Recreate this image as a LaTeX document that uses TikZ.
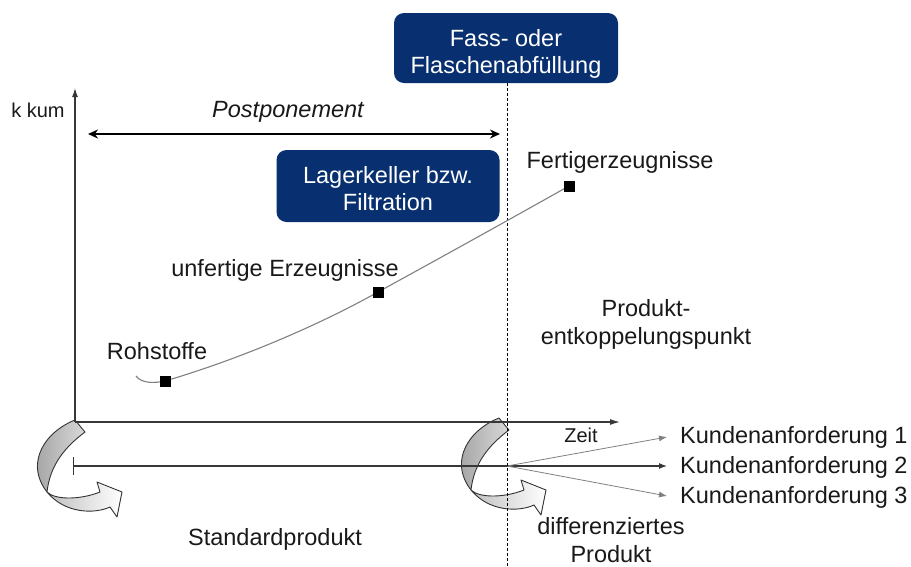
\documentclass[tikz,border=0pt]{standalone}
\usepackage{fontspec}
\setmainfont{Liberation Sans}
\usetikzlibrary{arrows.meta}
\definecolor{navy}{RGB}{8,48,112}
\definecolor{axisgray}{RGB}{55,55,55}
\definecolor{txtcol}{RGB}{25,25,25}
\begin{document}
\begin{tikzpicture}[x=1pt,y=-1pt,
  txt/.style={inner sep=0pt, font=\fontsize{23.5}{28}\selectfont, text=txtcol},
  smalltxt/.style={inner sep=0pt, font=\fontsize{20}{24}\selectfont, text=txtcol},
  bluebox/.style={fill=navy, rounded corners=10pt, inner sep=0pt},
  boxtxt/.style={inner sep=0pt, text=white, align=center, font=\fontsize{23.5}{27}\selectfont},
  marker/.style={fill=black, minimum size=11pt, inner sep=0pt},
  axisline/.style={draw=axisgray, line width=1.3pt},
  fanline/.style={draw=gray, line width=0.8pt, -{Latex[length=8pt,width=6pt]}},
  twistedge/.style={draw=black!80, line width=0.9pt, line join=round}
]
\useasboundingbox (0,0) rectangle (911,566);

% coordinates
\coordinate (O) at (75,422);
\coordinate (ytop) at (75,88);
\coordinate (xend) at (620,422);
\coordinate (pstart) at (88,134);
\coordinate (pend) at (500,134);
\coordinate (lstart) at (73,466);
\coordinate (split) at (507,466);
\coordinate (dtop) at (507,83);
\coordinate (dbot) at (507,566);
\coordinate (k1end) at (667,437);
\coordinate (k2end) at (667,466);
\coordinate (k3end) at (667,496);
\coordinate (cstart) at (136,376);
\coordinate (rohc) at (165,381);
\coordinate (unfc) at (378,292);
\coordinate (fertc) at (569,186);

% curved twisted arrows
\foreach \dx/\dy in {0/0, 424/-2} {
  \begin{scope}[shift={(\dx,\dy)}]
    \shade[twistedge, left color=gray!50, right color=white]
      (47,492) .. controls (55,500) and (80,500) .. (100,492) -- (97,482) -- (122,492)
      -- (117,517) -- (110,507) .. controls (95,514) and (65,514) .. (47,492) -- cycle;
    \shade[twistedge, left color=gray!70, right color=gray!30]
      (75,420) -- (85,432) .. controls (65,447) and (50,465) .. (47,492)
      .. controls (39,482) and (36,470) .. (38,460)
      .. controls (41,443) and (55,428) .. (75,420) -- cycle;
  \end{scope}
}

% axes
\draw[axisline, -{Latex[length=9pt,width=6pt]}] (O) -- (ytop);
\draw[axisline, -{Latex[length=10pt,width=6pt]}] (O) -- (xend);

% standard product line with bar
\draw[line width=1.1pt, draw=axisgray, {Bar[width=18pt]}-] (lstart) -- (split);
\draw[line width=1.1pt, draw=axisgray, -{Latex[length=8pt,width=6pt]}] (split) -- (k2end);
\draw[fanline] (split) -- (k1end);
\draw[fanline] (split) -- (k3end);

% postponement arrow
\draw[line width=2.4pt, {Stealth[length=10pt,width=9pt]}-{Stealth[length=10pt,width=9pt]}] (pstart) -- (pend);

% dashed decoupling line
\draw[line width=0.9pt, dash pattern=on 3pt off 2pt] (dtop) -- (dbot);

% boxes
\node[bluebox, minimum width=224pt, minimum height=70pt] (fassbox) at (506,48) {};
\node[boxtxt] (fass) at (506,54) {Fass- oder\\Flaschenabfüllung};
\node[bluebox, minimum width=223pt, minimum height=72pt] (lagerbox) at (388,186) {};
\node[boxtxt] (lager) at (388,189) {Lagerkeller bzw.\\Filtration};

% cost curve and markers
\draw[gray, line width=1.1pt] (cstart) .. controls (142,384) and (155,383) .. (rohc)
  .. controls (230,362) and (310,330) .. (unfc)
  .. controls (440,258) and (505,222) .. (fertc);
\node[marker] (roh) at (rohc) {};
\node[marker] (unf) at (unfc) {};
\node[marker] (fert) at (fertc) {};

% labels
\node[smalltxt, anchor=base] (kkum) at (38,117) {k kum};
\node[txt, anchor=base, font=\fontsize{23.5}{28}\selectfont\itshape] (post) at (288,117) {Postponement};
\node[txt, anchor=base] (lfert) at (620,168) {Fertigerzeugnisse};
\node[txt, anchor=base] (lunf) at (285,276) {unfertige Erzeugnisse};
\node[txt, anchor=base] (lroh) at (157,359) {Rohstoffe};
\node[txt, align=center] (entk) at (646,324) {Produkt-\\entkoppelungspunkt};
\node[smalltxt, anchor=base] (zeit) at (581,442) {Zeit};
\node[txt, anchor=base west] (k1) at (680,443) {Kundenanforderung 1};
\node[txt, anchor=base west] (k2) at (680,473) {Kundenanforderung 2};
\node[txt, anchor=base west] (k3) at (680,503) {Kundenanforderung 3};
\node[txt, anchor=base] (std) at (275,545) {Standardprodukt};
\node[txt, align=center] (diff) at (611,540) {differenziertes\\Produkt};
\end{tikzpicture}
\end{document}
